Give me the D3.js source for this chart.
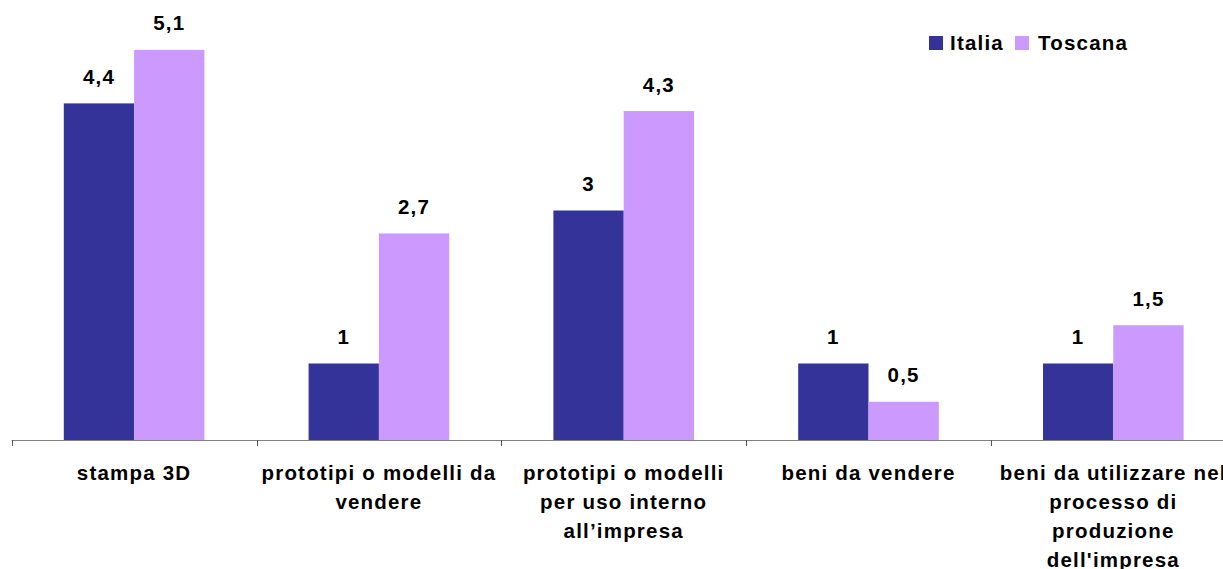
<!DOCTYPE html>
<html>
<head>
<meta charset="utf-8">
<script src="https://cdn.jsdelivr.net/npm/d3@7"></script>
<style>
  html, body { margin: 0; padding: 0; background: #fff; }
  svg { display: block; }
  text { font-family: "Liberation Sans", Arial, sans-serif; font-weight: bold; font-size: 20.5px; letter-spacing: 1.2px; fill: #000; }
</style>
</head>
<body>
<svg id="chart" width="1223" height="569"></svg>
<script>
// Categories (with the line breaks used under the axis)
const categories = [
  "stampa 3D",
  "prototipi o modelli da vendere",
  "prototipi o modelli per uso interno all’impresa",
  "beni da vendere",
  "beni da utilizzare nel processo di produzione dell'impresa"
];
const categoryLines = [
  ["stampa 3D"],
  ["prototipi o modelli da", "vendere"],
  ["prototipi o modelli", "per uso interno", "all’impresa"],
  ["beni da vendere"],
  ["beni da utilizzare nel", "processo di", "produzione", "dell'impresa"]
];
const seriesNames = ["Italia", "Toscana"];
const italia  = [4.4, 1, 3, 1, 1];
const toscana = [5.1, 2.7, 4.3, 0.5, 1.5];
const valueLabels = {
  Italia:  ["4,4", "1", "3", "1", "1"],
  Toscana: ["5,1", "2,7", "4,3", "0,5", "1,5"]
};
const colors = { Italia: "#333399", Toscana: "#CC99FF" };

const svg = d3.select("#chart");
const axisY = 440;
const left = 11.7, step = 244.8;

const x0 = d3.scaleBand()
  .domain(categories)
  .range([left, left + step * categories.length])
  .paddingInner(0).paddingOuter(0);

const x1 = d3.scaleBand()
  .domain(seriesNames)
  .range([0, x0.bandwidth()])
  .paddingInner(0).paddingOuter(0.741);

const y = d3.scaleLinear().domain([0, 5.5]).range([axisY, axisY - 5.5 * 76.5]);

const rows = categories.map((c, i) => ({
  cat: c,
  values: [
    { key: "Italia", v: italia[i], label: valueLabels.Italia[i] },
    { key: "Toscana", v: toscana[i], label: valueLabels.Toscana[i] }
  ]
}));

// Bars
const groups = svg.append("g").selectAll("g")
  .data(rows).join("g")
  .attr("transform", d => `translate(${x0(d.cat)},0)`);

groups.selectAll("rect")
  .data(d => d.values).join("rect")
  .attr("x", d => x1(d.key))
  .attr("y", d => y(d.v))
  .attr("width", x1.bandwidth())
  .attr("height", d => y(0) - y(d.v))
  .attr("fill", d => colors[d.key]);

// Value labels
groups.selectAll("text.val")
  .data(d => d.values).join("text")
  .attr("class", "val")
  .attr("x", d => x1(d.key) + x1.bandwidth() / 2)
  .attr("y", d => y(d.v) - 19.5)
  .attr("text-anchor", "middle")
  .text(d => d.label);

// Category axis: baseline and tick marks at band boundaries
const axis = svg.append("g");
axis.append("line")
  .attr("x1", left).attr("x2", 1223)
  .attr("y1", axisY + 0.5).attr("y2", axisY + 0.5)
  .attr("stroke", "#808080").attr("stroke-width", 1.2);

const tickPos = categories.map(c => x0(c)).concat([x0.range()[1]]);
axis.selectAll("line.tick")
  .data(tickPos).join("line")
  .attr("class", "tick")
  .attr("x1", d => Math.round(d) + 0.5).attr("x2", d => Math.round(d) + 0.5)
  .attr("y1", axisY).attr("y2", axisY + 6)
  .attr("stroke", "#555").attr("stroke-width", 1);

// Category labels
const catLabels = svg.append("g").selectAll("text")
  .data(rows).join("text")
  .attr("text-anchor", "middle")
  .attr("x", d => x0(d.cat) + x0.bandwidth() / 2)
  .attr("y", 480);

catLabels.each(function(d, i) {
  const t = d3.select(this);
  const cx = x0(d.cat) + x0.bandwidth() / 2;
  categoryLines[i].forEach((line, j) => {
    t.append("tspan")
      .attr("x", cx)
      .attr("dy", j === 0 ? 0 : 29)
      .text(line);
  });
});

// Legend
const legend = svg.append("g");
const legendItems = [
  { key: "Italia", sx: 929, tx: 950 },
  { key: "Toscana", sx: 1015, tx: 1038 }
];
legend.selectAll("rect")
  .data(legendItems).join("rect")
  .attr("x", d => d.sx).attr("y", 36)
  .attr("width", 14).attr("height", 14)
  .attr("fill", d => colors[d.key]);
legend.selectAll("text")
  .data(legendItems).join("text")
  .attr("x", d => d.tx).attr("y", 49.5)
  .text(d => d.key);
</script>
</body>
</html>
